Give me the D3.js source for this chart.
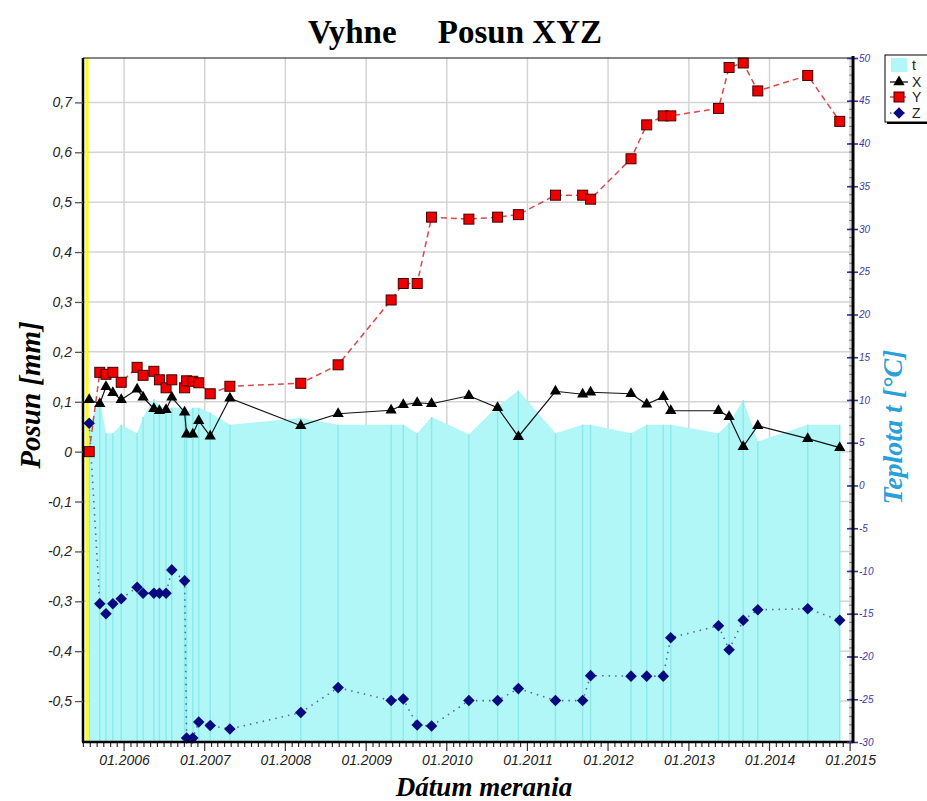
<!DOCTYPE html>
<html><head><meta charset="utf-8">
<script src="https://cdn.jsdelivr.net/npm/d3@7"></script>
<style>body{margin:0;background:#fff}svg{display:block}</style>
</head><body>
<svg id="c" width="927" height="801"></svg>
<script>
const dates = ["2005-07-27","2005-09-13","2005-10-11","2005-11-11","2005-12-19","2006-03-01","2006-03-28","2006-05-16","2006-06-10","2006-07-10","2006-08-05","2006-10-02","2006-10-11","2006-11-08","2006-12-05","2007-01-26","2007-04-25","2008-03-11","2008-08-27","2009-04-24","2009-06-18","2009-08-20","2009-10-24","2010-04-11","2010-08-19","2010-11-21","2011-05-08","2011-09-08","2011-10-14","2012-04-14","2012-06-24","2012-09-07","2012-10-11","2013-05-15","2013-07-02","2013-09-04","2013-11-09","2014-06-23","2014-11-15"];
const seriesX = [0.104,0.096,0.130,0.118,0.104,0.125,0.109,0.086,0.082,0.084,0.109,0.079,0.035,0.035,0.062,0.031,0.107,0.052,0.076,0.083,0.094,0.098,0.096,0.112,0.088,0.030,0.121,0.115,0.119,0.116,0.095,0.110,0.082,0.082,0.070,0.010,0.052,0.026,0.008];
const seriesY = [0.0,0.159,0.155,0.159,0.139,0.169,0.153,0.161,0.144,0.128,0.144,0.128,0.142,0.141,0.138,0.116,0.131,0.137,0.174,0.304,0.337,0.337,0.470,0.466,0.470,0.475,0.514,0.514,0.506,0.587,0.655,0.673,0.673,0.688,0.770,0.779,0.723,0.754,0.662];
const seriesZ = [0.057,-0.305,-0.325,-0.305,-0.295,-0.272,-0.284,-0.284,-0.284,-0.284,-0.237,-0.259,-0.574,-0.574,-0.542,-0.549,-0.556,-0.523,-0.473,-0.499,-0.496,-0.548,-0.550,-0.499,-0.499,-0.475,-0.499,-0.499,-0.449,-0.450,-0.450,-0.450,-0.373,-0.349,-0.397,-0.338,-0.317,-0.315,-0.338];
const seriesT = [7.0,10.1,6.1,6.1,7.1,6.1,8.0,10.1,9.4,8.9,9.1,9.1,8.5,9.1,9.1,8.5,7.1,7.9,7.1,7.1,7.1,6.1,8.0,6.0,9.25,11.1,6.1,7.1,7.1,6.1,7.1,7.1,7.1,6.1,7.3,10.0,5.15,7.1,7.1];
const leftTicks = [-0.5,-0.4,-0.3,-0.2,-0.1,0,0.1,0.2,0.3,0.4,0.5,0.6,0.7];
const rightTicks = [-30,-25,-20,-15,-10,-5,0,5,10,15,20,25,30,35,40,45,50];
const yearTicks = ["2006-01-01","2007-01-01","2008-01-01","2009-01-01","2010-01-01","2011-01-01","2012-01-01","2013-01-01","2014-01-01","2015-01-01"];
const markerDate = "2005-07-17";
const legendItems = ["t","X","Y","Z"];

const parse = d3.timeParse("%Y-%m-%d");
const data = dates.map((d,i)=>({d:parse(d),x:seriesX[i],y:seriesY[i],z:seriesZ[i],t:seriesT[i]}));

const L=83,R=853,T=58,B=742;
const xS = d3.scaleTime().domain([new Date(2005,5,29), new Date(2015,0,14)]).range([L,R]);
const yL = d3.scaleLinear().domain([-0.582,0.789]).range([B,T]);
const yR = d3.scaleLinear().domain([-30,50]).range([B,T]);

const svg = d3.select("#c");
const fmt = v => v===0 ? "0" : d3.format(".1f")(v).replace(".",",").replace("−","-");

// grid
const g = svg.append("g");
g.selectAll(".hg").data(leftTicks).join("line")
  .attr("x1",L).attr("x2",R).attr("y1",d=>yL(d)).attr("y2",d=>yL(d))
  .attr("stroke","#d4d4d4").attr("stroke-width",1.5);
g.selectAll(".vg").data(yearTicks.map(parse)).join("line")
  .attr("x1",d=>xS(d)).attr("x2",d=>xS(d)).attr("y1",T).attr("y2",B)
  .attr("stroke","#d4d4d4").attr("stroke-width",1.5);

// temperature area
const area = d3.area().x(d=>xS(d.d)).y0(yR(-30)).y1(d=>yR(d.t));
svg.append("path").datum(data).attr("d",area).attr("fill","#b2f7f7");
svg.selectAll(".tv").data(data).join("line")
  .attr("x1",d=>xS(d.d)).attr("x2",d=>xS(d.d)).attr("y1",B).attr("y2",d=>yR(d.t))
  .attr("stroke","#8eeaea").attr("stroke-width",1.5);

// yellow marker
svg.append("line").attr("x1",xS(parse(markerDate))).attr("x2",xS(parse(markerDate)))
  .attr("y1",T).attr("y2",B).attr("stroke","#ffff00").attr("stroke-width",3);

// series lines
const lineFor = k => d3.line().x(d=>xS(d.d)).y(d=>yL(d[k]));
svg.append("path").datum(data).attr("d",lineFor("z")).attr("fill","none")
  .attr("stroke","#5a6a90").attr("stroke-width",1.6).attr("stroke-dasharray","1.5,5");
svg.append("path").datum(data).attr("d",lineFor("y")).attr("fill","none")
  .attr("stroke","#d84848").attr("stroke-width",1.5).attr("stroke-dasharray","6,4");
svg.append("path").datum(data).attr("d",lineFor("x")).attr("fill","none")
  .attr("stroke","#111").attr("stroke-width",1.2);

// markers
const tri = d3.symbol().type(d3.symbolTriangle).size(55);
const dia = d3.symbol().type(d3.symbolDiamond2).size(85);
svg.selectAll(".mz").data(data).join("path").attr("d",dia)
  .attr("transform",d=>`translate(${xS(d.d)},${yL(d.z)})`).attr("fill","#0a0a80");
svg.selectAll(".mx").data(data).join("path").attr("d",tri)
  .attr("transform",d=>`translate(${xS(d.d)},${yL(d.x)})`).attr("fill","#000");
svg.selectAll(".my").data(data).join("rect")
  .attr("x",d=>xS(d.d)-5).attr("y",d=>yL(d.y)-5).attr("width",10).attr("height",10)
  .attr("fill","#ee0000").attr("stroke","#400").attr("stroke-width",1);

// frame
svg.append("line").attr("x1",L).attr("x2",R).attr("y1",T).attr("y2",T).attr("stroke","#111").attr("stroke-width",1.2);

// left axis
const axL = d3.axisLeft(yL).tickValues(leftTicks).tickSize(8).tickPadding(3).tickFormat(fmt);
const gl = svg.append("g").attr("transform",`translate(${L},0)`).call(axL);
gl.select(".domain").attr("stroke","#000").attr("stroke-width",2.5).attr("d",`M0,${T}V${B}`);
gl.selectAll(".tick line").attr("stroke","#555").attr("stroke-width",1.3);
gl.selectAll(".tick text").attr("font-family","Liberation Sans, Arial, sans-serif").attr("font-style","italic")
  .attr("font-size",14).attr("fill","#222");

// bottom axis
const months = d3.timeMonth.range(xS.domain()[0], xS.domain()[1]);
const gb = svg.append("g").attr("transform",`translate(0,${B})`);
gb.selectAll(".mt").data(months).join("line")
  .attr("x1",d=>xS(d)).attr("x2",d=>xS(d)).attr("y1",0).attr("y2",d=>d.getMonth()===0?9:5)
  .attr("stroke","#333").attr("stroke-width",1.2);
const axB = d3.axisBottom(xS).tickValues(yearTicks.map(parse)).tickSize(0).tickPadding(13)
  .tickFormat(d3.timeFormat("%m.%Y"));
const gbx = gb.append("g").call(axB);
gbx.select(".domain").remove();
gbx.selectAll(".tick text").attr("font-family","Liberation Sans, Arial, sans-serif").attr("font-style","italic")
  .attr("font-size",14).attr("fill","#222");
gb.append("line").attr("x1",L-1).attr("x2",R).attr("y1",0).attr("y2",0).attr("stroke","#000").attr("stroke-width",2.5);

// right axis
const gr = svg.append("g").attr("transform",`translate(${R},0)`);
gr.selectAll(".rm").data(d3.range(-30,51,1)).join("line")
  .attr("x1",-4).attr("x2",0).attr("y1",d=>yR(d)).attr("y2",d=>yR(d))
  .attr("stroke","#777").attr("stroke-width",1);
const axR = d3.axisRight(yR).tickValues(rightTicks).tickSize(5).tickPadding(1).tickFormat(d3.format("d"));
const grx = gr.append("g").call(axR);
grx.select(".domain").remove();
grx.selectAll(".tick line").attr("x1",-6).attr("stroke","#33339a").attr("stroke-width",1.6);
grx.selectAll(".tick text").attr("font-family","Liberation Sans, Arial, sans-serif").attr("font-style","italic")
  .attr("font-size",10).attr("fill","#3a3aa8").text(d=>String(d));
gr.append("line").attr("x1",0).attr("x2",0).attr("y1",T-2).attr("y2",B+1).attr("stroke","#000").attr("stroke-width",3);

// titles
svg.append("text").attr("x",455).attr("y",43).attr("text-anchor","middle")
  .attr("font-family","Liberation Serif, Times New Roman, serif").attr("font-weight","bold").attr("font-size",33)
  .attr("fill","#000").attr("xml:space","preserve").style("white-space","pre").text("Vyhne     Posun XYZ");
svg.append("text").attr("transform","translate(40,395) rotate(-90)").attr("text-anchor","middle")
  .attr("font-family","Liberation Serif, Times New Roman, serif").attr("font-weight","bold").attr("font-style","italic")
  .attr("font-size",29).attr("fill","#000").text("Posun [mm]");
svg.append("text").attr("transform","translate(902,427) rotate(-90)").attr("text-anchor","middle")
  .attr("font-family","Liberation Serif, Times New Roman, serif").attr("font-weight","bold").attr("font-style","italic")
  .attr("font-size",28).attr("fill","#2a9fd8").text("Teplota t [°C]");
svg.append("text").attr("x",484).attr("y",796).attr("text-anchor","middle")
  .attr("font-family","Liberation Serif, Times New Roman, serif").attr("font-weight","bold").attr("font-style","italic")
  .attr("font-size",27).attr("fill","#000").text("Dátum merania");

// legend
const lg = svg.append("g").attr("transform","translate(885,55)");
lg.append("rect").attr("x",2).attr("y",2).attr("width",44).attr("height",67).attr("fill","#000");
lg.append("rect").attr("x",0).attr("y",0).attr("width",44).attr("height",67).attr("fill","#fff").attr("stroke","#000").attr("stroke-width",1);
const ly = [10,27,42,58];
lg.selectAll(".lt").data(legendItems).join("text")
  .attr("x",27).attr("y",(d,i)=>ly[i]+5).attr("font-family","Liberation Sans, Arial, sans-serif")
  .attr("font-size",14).attr("fill","#222").text(d=>d);
lg.append("rect").attr("x",6).attr("y",ly[0]-7).attr("width",16).attr("height",14).attr("fill","#b2f7f7");
lg.append("line").attr("x1",5).attr("x2",23).attr("y1",ly[1]).attr("y2",ly[1]).attr("stroke","#000").attr("stroke-width",1.2);
lg.append("path").attr("d",tri).attr("transform",`translate(14,${ly[1]})`).attr("fill","#000");
lg.append("line").attr("x1",5).attr("x2",23).attr("y1",ly[2]).attr("y2",ly[2]).attr("stroke","#d84848").attr("stroke-width",1.5).attr("stroke-dasharray","4,2");
lg.append("rect").attr("x",9).attr("y",ly[2]-5).attr("width",10).attr("height",10).attr("fill","#ee0000").attr("stroke","#400");
lg.append("line").attr("x1",5).attr("x2",23).attr("y1",ly[3]).attr("y2",ly[3]).attr("stroke","#5a6a90").attr("stroke-width",1.5).attr("stroke-dasharray","1.5,5");
lg.append("path").attr("d",dia).attr("transform",`translate(14,${ly[3]})`).attr("fill","#0a0a80");
</script>
</body></html>
